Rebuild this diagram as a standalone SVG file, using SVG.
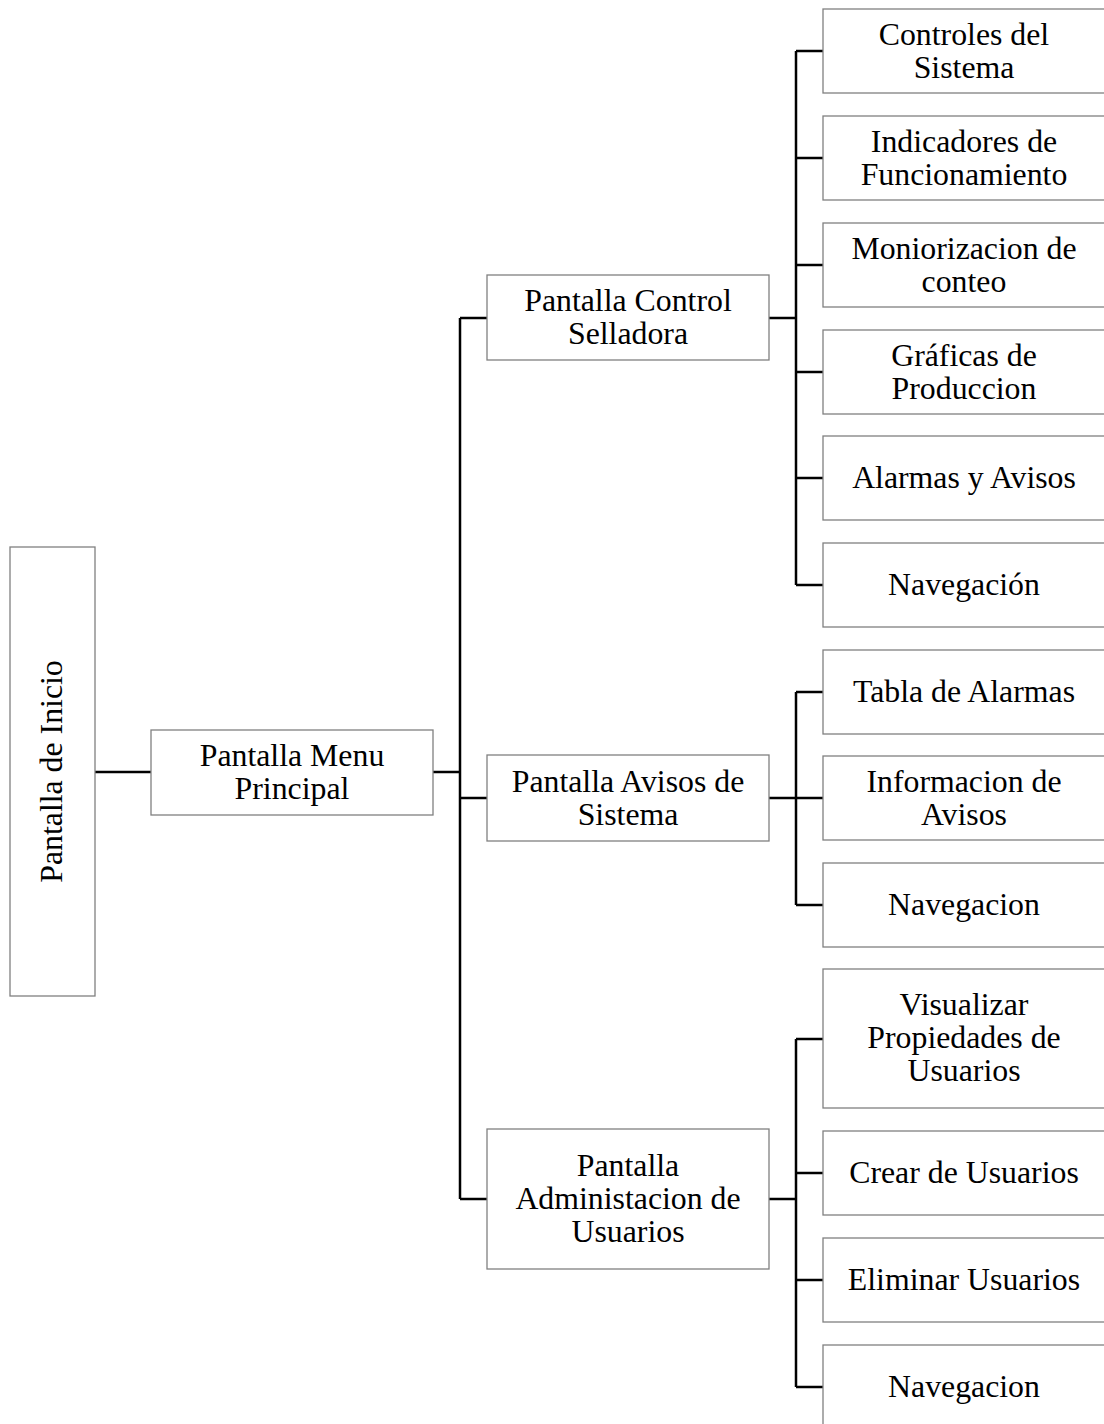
<svg xmlns="http://www.w3.org/2000/svg" width="1104" height="1424" viewBox="0 0 1104 1424">
<style>
.box{fill:#ffffff;stroke:#808080;stroke-width:1.3}
.t{font-family:"Liberation Serif","Times New Roman",serif;font-size:31.8px;fill:#000;text-anchor:middle}
.c{fill:none;stroke:#000;stroke-width:2.5}
</style>
<rect width="1104" height="1424" fill="#fff"/>
<g id="connectors">
<path class="c" d="M95,772H151"/>
<path class="c" d="M433,772H460M460,318V1199M460,318H487M460,798H487M460,1199H487"/>
<path class="c" d="M769,318H796M796,51V585M796,51H823M796,158H823M796,265H823M796,372H823M796,478H823M796,585H823"/>
<path class="c" d="M769,798H796M796,692V905M796,692H823M796,798H823M796,905H823"/>
<path class="c" d="M769,1199H796M796,1039V1387M796,1039H823M796,1173H823M796,1280H823M796,1387H823"/>
</g>
<g id="n-inicio"><rect class="box" x="10" y="547" width="85" height="449"/><text class="t" transform="translate(62,771.5) rotate(-90)" x="0" y="0">Pantalla de Inicio</text></g>
<g id="n-menu"><rect class="box" x="151" y="730" width="282" height="85"/><text class="t" x="292" y="766">Pantalla Menu</text><text class="t" x="292" y="799">Principal</text></g>
<g id="n-control"><rect class="box" x="487" y="275" width="282" height="85"/><text class="t" x="628" y="311">Pantalla Control</text><text class="t" x="628" y="344">Selladora</text></g>
<g id="n-avisos"><rect class="box" x="487" y="755" width="282" height="86"/><text class="t" x="628" y="791.5">Pantalla Avisos de</text><text class="t" x="628" y="824.5">Sistema</text></g>
<g id="n-admin"><rect class="box" x="487" y="1129" width="282" height="140"/><text class="t" x="628" y="1176">Pantalla</text><text class="t" x="628" y="1209">Administacion de</text><text class="t" x="628" y="1242">Usuarios</text></g>
<g id="n-controles"><rect class="box" x="823" y="9" width="284" height="84"/><text class="t" x="964" y="44.5">Controles del</text><text class="t" x="964" y="77.5">Sistema</text></g>
<g id="n-indicadores"><rect class="box" x="823" y="116" width="284" height="84"/><text class="t" x="964" y="151.5">Indicadores de</text><text class="t" x="964" y="184.5">Funcionamiento</text></g>
<g id="n-monitor"><rect class="box" x="823" y="223" width="284" height="84"/><text class="t" x="964" y="258.5">Moniorizacion de</text><text class="t" x="964" y="291.5">conteo</text></g>
<g id="n-graficas"><rect class="box" x="823" y="330" width="284" height="84"/><text class="t" x="964" y="365.5">Gráficas de</text><text class="t" x="964" y="398.5">Produccion</text></g>
<g id="n-alarmas"><rect class="box" x="823" y="436" width="284" height="84"/><text class="t" x="964" y="488">Alarmas y Avisos</text></g>
<g id="n-nav1"><rect class="box" x="823" y="543" width="284" height="84"/><text class="t" x="964" y="595">Navegación</text></g>
<g id="n-tabla"><rect class="box" x="823" y="650" width="284" height="84"/><text class="t" x="964" y="702">Tabla de Alarmas</text></g>
<g id="n-info"><rect class="box" x="823" y="756" width="284" height="84"/><text class="t" x="964" y="791.5">Informacion de</text><text class="t" x="964" y="824.5">Avisos</text></g>
<g id="n-nav2"><rect class="box" x="823" y="863" width="284" height="84"/><text class="t" x="964" y="915">Navegacion</text></g>
<g id="n-visualizar"><rect class="box" x="823" y="969" width="284" height="139"/><text class="t" x="964" y="1015">Visualizar</text><text class="t" x="964" y="1048">Propiedades de</text><text class="t" x="964" y="1081">Usuarios</text></g>
<g id="n-crear"><rect class="box" x="823" y="1131" width="284" height="84"/><text class="t" x="964" y="1183">Crear de Usuarios</text></g>
<g id="n-eliminar"><rect class="box" x="823" y="1238" width="284" height="84"/><text class="t" x="964" y="1290">Eliminar Usuarios</text></g>
<g id="n-nav3"><rect class="box" x="823" y="1345" width="284" height="84"/><text class="t" x="964" y="1397">Navegacion</text></g>
</svg>
